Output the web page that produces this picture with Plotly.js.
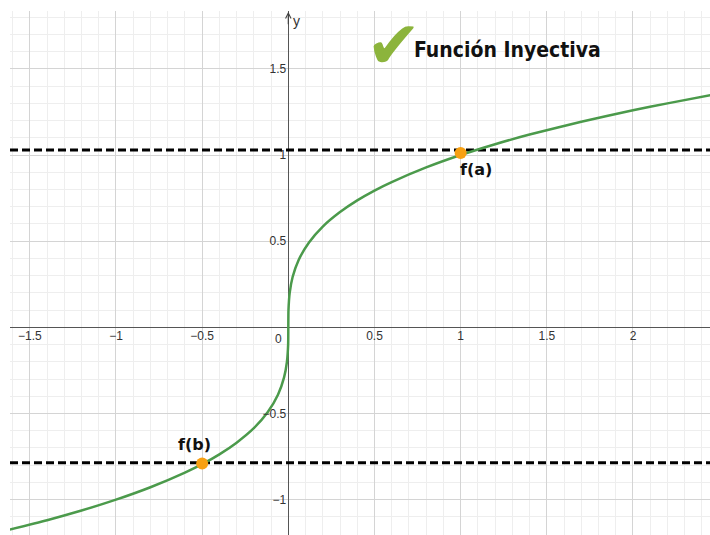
<!DOCTYPE html>
<html>
<head>
<meta charset="utf-8">
<script src="https://cdn.plot.ly/plotly-3.0.1.min.js"></script>
<style>
  html, body { margin: 0; padding: 0; background: #ffffff; }
  #chart { width: 710px; height: 535px; }
</style>
</head>
<body>
<div id="chart"></div>
<script>
// Sampled points of the increasing curve (dense near the origin, where it turns vertical)
const curveX = [-1.62, -1.4, -1.2, -1.0, -0.8, -0.6, -0.5, -0.4, -0.3, -0.2, -0.12, -0.06, -0.025, -0.008, -0.001, 0,
                0.001, 0.008, 0.025, 0.06, 0.12, 0.2, 0.3, 0.4, 0.5, 0.6, 0.8, 1.0, 1.2, 1.4, 1.7, 2.0, 2.2, 2.45];
const curveY = [-1.174, -1.119, -1.063, -1.0, -0.928, -0.843, -0.794, -0.737, -0.669, -0.585, -0.493, -0.391, -0.292, -0.2, -0.1, 0,
                0.1, 0.2, 0.292, 0.391, 0.493, 0.585, 0.669, 0.737, 0.794, 0.843, 0.928, 1.0, 1.063, 1.119, 1.193, 1.26, 1.3, 1.348];

// Highlighted points f(a) and f(b)
const pointLabels = ['f(a)', 'f(b)'];
const pointX = [1.0, -0.5];
const pointY = [1.012, -0.79];

// Horizontal dashed reference levels
const levelY = [1.03, -0.785];

// Axis ticks
const xTicks = [-1.5, -1, -0.5, 0.5, 1, 1.5, 2];
const yTicks = [-1, -0.5, 0.5, 1, 1.5];
const fmt = v => (v < 0 ? '\u2212' + String(-v) : String(v));

const xRange = [-1.615, 2.447];
const yRange = [-1.205, 1.836];

const traces = [];

levelY.forEach(y => {
  traces.push({
    x: xRange, y: [y, y], mode: 'lines', hoverinfo: 'skip',
    line: { color: '#000000', width: 3, dash: '8px,4px' }
  });
});

traces.push({
  x: curveX, y: curveY, mode: 'lines', hoverinfo: 'skip',
  line: { color: '#4b9a4b', width: 2.5, shape: 'spline', smoothing: 0.6 }
});

traces.push({
  x: pointX, y: pointY, mode: 'markers', hoverinfo: 'skip',
  marker: { color: '#f7a012', size: 12, line: { width: 0 } }
});

// Point labels: f(a) below-right of its point, f(b) above-left
const labelShift = [[15, -17], [-8, 19]];
const annotations = pointLabels.map((t, i) => ({
  x: pointX[i], y: pointY[i], xref: 'x', yref: 'y',
  xshift: labelShift[i][0], yshift: labelShift[i][1],
  text: '<b>' + t + '</b>', showarrow: false,
  font: { family: 'DejaVu Sans', size: 16, color: '#111111' }
}));

// Origin label sits left of the vertical axis
annotations.push({
  x: 0, y: 0, xref: 'x', yref: 'y', xshift: -10, yshift: -12,
  text: '0', showarrow: false,
  font: { family: 'Liberation Sans', size: 12, color: '#333333' }
});

// Arrow tip and name of the vertical axis
annotations.push({
  x: 0, y: yRange[1] - 0.005, xref: 'x', yref: 'y',
  ax: 0, ay: 14, text: '', showarrow: true,
  arrowhead: 5, arrowsize: 0.9, arrowwidth: 1.2, arrowcolor: '#444444'
});
annotations.push({
  x: 0, y: yRange[1], xref: 'x', yref: 'y', xshift: 8, yshift: -10,
  text: 'y', showarrow: false,
  font: { family: 'Liberation Sans', size: 14, color: '#333333' }
});

// Heading with a green check mark in front of it
annotations.push({
  x: 0.548, y: 0.934, xref: 'paper', yref: 'paper', xanchor: 'center', yanchor: 'middle',
  text: '\u2714', showarrow: false,
  font: { family: 'DejaVu Sans', size: 66, color: '#8cb43c' }
});
annotations.push({
  x: 0.574, y: 0.926, xref: 'paper', yref: 'paper', xanchor: 'left', yanchor: 'middle',
  text: '<b>Función Inyectiva</b>', showarrow: false,
  font: { family: 'DejaVu Sans Condensed', size: 21, color: '#111111' }
});

const layout = {
  width: 710, height: 535,
  margin: { l: 10, r: 0, t: 11, b: 0, pad: 0 },
  paper_bgcolor: '#ffffff', plot_bgcolor: '#ffffff',
  showlegend: false,
  xaxis: {
    range: xRange, anchor: 'free',
    position: (0 - yRange[0]) / (yRange[1] - yRange[0]),
    tickvals: xTicks, ticktext: xTicks.map(fmt),
    tickfont: { family: 'Liberation Sans', size: 12, color: '#333333' },
    ticks: '', showline: false,
    showgrid: true, gridcolor: '#d4d4d4', gridwidth: 1,
    minor: { dtick: 0.1, tick0: 0, showgrid: true, gridcolor: '#eeeeee', gridwidth: 1 },
    zeroline: true, zerolinecolor: '#555555', zerolinewidth: 1.5,
    fixedrange: true
  },
  yaxis: {
    range: yRange, anchor: 'free',
    position: (0 - xRange[0]) / (xRange[1] - xRange[0]),
    tickvals: yTicks, ticktext: yTicks.map(fmt),
    tickfont: { family: 'Liberation Sans', size: 12, color: '#333333' },
    ticks: '', showline: false, ticklabelstandoff: 2,
    showgrid: true, gridcolor: '#d4d4d4', gridwidth: 1,
    minor: { dtick: 0.1, tick0: 0, showgrid: true, gridcolor: '#eeeeee', gridwidth: 1 },
    zeroline: true, zerolinecolor: '#555555', zerolinewidth: 1.5,
    fixedrange: true
  },
  annotations: annotations
};

Plotly.newPlot('chart', traces, layout, { displayModeBar: false, staticPlot: true });
</script>
</body>
</html>
